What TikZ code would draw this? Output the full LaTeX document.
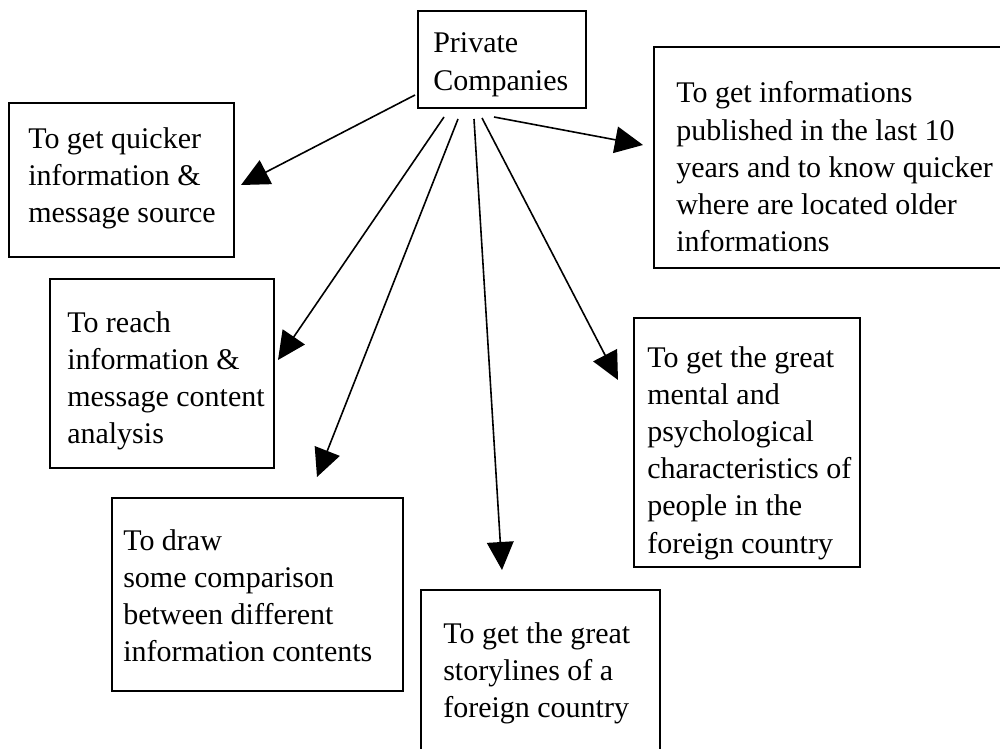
\documentclass[tikz,border=0pt]{standalone}
\usepackage{fontspec}
\setmainfont{Liberation Serif}
\usetikzlibrary{fit,arrows.meta}
\newcommand{\bxt}[1]{\parbox[t]{12cm}{\fontsize{22.5}{27.9}\selectfont\raggedright #1}}
\tikzset{
  boxframe/.style={draw, line width=1.1pt, inner sep=0pt, rectangle},
  boxtext/.style={anchor=base west, inner sep=0pt},
  conn/.style={line width=1.2pt, -{Triangle[length=21pt,width=20pt]}}
}
\begin{document}
\begin{tikzpicture}[x=0.75pt,y=-0.75pt]
\useasboundingbox (0,0) rectangle (1000,749);
% boxes
\node[boxframe, fit={(418,11) (586,108)}] (pc) {};
\node[boxframe, fit={(9,103) (234,257)}] (tl) {};
\node[boxframe, fit={(50,279) (274,468)}] (lm) {};
\node[boxframe, fit={(112,498) (403,691)}] (ll) {};
\node[boxframe, fit={(421,590) (660,770)}] (bt) {};
\node[boxframe, fit={(634,318) (860,567)}] (rm) {};
\node[boxframe, fit={(654,47) (1020,268)}] (rt) {};
% texts
\node[boxtext] (pct) at (433,53) {\bxt{Private\\Companies}};
\node[boxtext] (tlt) at (28,148) {\bxt{To get quicker\\information \&\\message source}};
\node[boxtext] (lmt) at (67,332) {\bxt{To reach\\information \&\\message content\\analysis}};
\node[boxtext] (llt) at (123,550) {\bxt{To draw\\some comparison\\between different\\information contents}};
\node[boxtext] (btt) at (443,643) {\bxt{To get the great\\storylines of a\\foreign country}};
\node[boxtext] (rmt) at (647,367) {\bxt{To get the great\\mental and\\psychological\\characteristics of\\people in the\\foreign country}};
\node[boxtext] (rtt) at (676,103) {\bxt{To get informations\\published in the last 10\\years and to know quicker\\where are located older\\informations}};
% connector ends
\coordinate (s1) at (415,95);
\coordinate (s2) at (444,117);
\coordinate (s3) at (458,119);
\coordinate (s4) at (474,119);
\coordinate (s5) at (482,118);
\coordinate (s6) at (494,117);
\coordinate (e1) at (241,185);
\coordinate (e2) at (278,360);
\coordinate (e3) at (317,477);
\coordinate (e4) at (502,570);
\coordinate (e5) at (618,380);
\coordinate (e6) at (643,145);
\draw[conn] (s1) -- (e1);
\draw[conn] (s2) -- (e2);
\draw[conn] (s3) -- (e3);
\draw[conn] (s4) -- (e4);
\draw[conn] (s5) -- (e5);
\draw[conn] (s6) -- (e6);
\end{tikzpicture}
\end{document}
